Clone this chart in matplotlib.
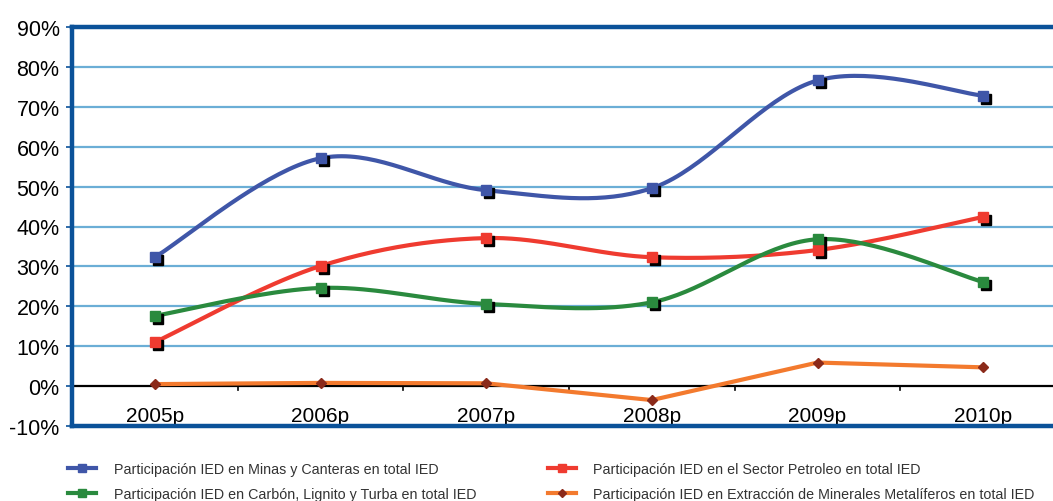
import numpy as np
import matplotlib.pyplot as plt
from matplotlib import transforms
from matplotlib.lines import Line2D

plt.rcParams['font.family'] = ['Liberation Sans', 'DejaVu Sans']

# 数据（读图估计，单位 %）
years = ["2005p", "2006p", "2007p", "2008p", "2009p", "2010p"]
minas = [32.3, 57.1, 49.1, 49.6, 76.6, 72.8]
petroleo = [11.0, 30.1, 37.1, 32.3, 34.1, 42.4]
carbon = [17.6, 24.6, 20.6, 21.0, 36.8, 26.1]
metaliferos = [0.5, 0.8, 0.7, -3.5, 5.9, 4.7]

labels = [
    "Participación IED en Minas y Canteras en total IED",
    "Participación IED en el Sector Petroleo en total IED",
    "Participación IED en Carbón, Lignito y Turba en total IED",
    "Participación IED en Extracción de Minerales Metalíferos en total IED",
]

c_blue = "#3F56A8"
c_red = "#EF3B30"
c_green = "#2A8A3E"
c_orange = "#F37A2E"
c_diamond = "#8B2A1A"
c_frame = "#0B5299"
c_grid = "#6BAED6"


def smooth(y, n=40):
    """Excel 风格的平滑线（Catmull-Rom 贝塞尔）"""
    x = np.arange(len(y), dtype=float)
    y = np.asarray(y, dtype=float)
    pts = np.column_stack([x, y])
    out = []
    for i in range(len(pts) - 1):
        p0 = pts[max(i - 1, 0)]
        p1 = pts[i]
        p2 = pts[i + 1]
        p3 = pts[min(i + 2, len(pts) - 1)]
        c1 = p1 + (p2 - p0) / 6
        c2 = p2 - (p3 - p1) / 6
        t = np.linspace(0, 1, n)[:, None]
        seg = ((1 - t) ** 3 * p1 + 3 * (1 - t) ** 2 * t * c1
               + 3 * (1 - t) * t ** 2 * c2 + t ** 3 * p2)
        out.append(seg if i == 0 else seg[1:])
    out = np.vstack(out)
    return out[:, 0], out[:, 1]


fig = plt.figure(figsize=(10.53, 5.02), dpi=100)
ax = fig.add_axes([72 / 1053, 75 / 502, 994 / 1053, 399 / 502])

ax.set_xlim(-0.5, 5.5)
ax.set_ylim(-10, 90)

# 网格线
for v in range(10, 90, 10):
    ax.axhline(v, color=c_grid, linewidth=1.6, zorder=1)
ax.axhline(0, color="black", linewidth=1.6, zorder=2)

# 零线上的分类刻度
for b in np.arange(0.5, 5.5, 1.0):
    ax.plot([b, b], [0, -0.9], color="black", linewidth=1.2, zorder=2)

shadow = transforms.offset_copy(ax.transData, fig=fig, x=3, y=-3, units="dots")
x = np.arange(len(years))

for vals, col in [(minas, c_blue), (petroleo, c_red), (carbon, c_green)]:
    sx, sy = smooth(vals)
    ax.plot(sx, sy, color=col, linewidth=3, zorder=3, solid_capstyle="round")
    ax.plot(x, vals, linestyle="none", marker="s", markersize=6.5,
            color="black", transform=shadow, zorder=4)
    ax.plot(x, vals, linestyle="none", marker="s", markersize=6.5,
            color=col, zorder=5)

ax.plot(x, metaliferos, color=c_orange, linewidth=3, zorder=3)
ax.plot(x, metaliferos, linestyle="none", marker="D", markersize=5,
        color=c_diamond, zorder=5)

# 坐标轴样式
for side in ["left", "top", "bottom"]:
    ax.spines[side].set_color(c_frame)
    ax.spines[side].set_linewidth(3.2)
ax.spines["right"].set_visible(False)

ax.set_yticks(range(-10, 100, 10))
ax.set_yticklabels([f"{v}%" for v in range(-10, 100, 10)], fontsize=15.5)
ax.tick_params(axis="y", length=4, width=1.2, color=c_frame, pad=5)
ax.set_xticks(x)
ax.set_xticklabels(years, fontsize=15)
ax.tick_params(axis="x", length=0, pad=-14.5)

# 图例
handles = []
for col, mk, ms in [(c_blue, "s", 6), (c_red, "s", 6), (c_green, "s", 6), (c_diamond, "D", 4.5)]:
    lc = c_orange if mk == "D" else col
    handles.append(Line2D([0], [0], color=lc, linewidth=3, marker=mk,
                          markersize=ms, markerfacecolor=col, markeredgecolor=col))
order = [0, 2, 1, 3]
fig.legend([handles[i] for i in order], [labels[i] for i in order],
           ncol=2, loc="upper left", bbox_to_anchor=(62 / 1053, 1 - 457 / 502),
           frameon=False, fontsize=10.3, handlelength=2.0, handletextpad=1.2,
           columnspacing=5.0, labelspacing=0.82, borderaxespad=0,
           labelcolor="#333333")

fig.savefig("out.png", dpi=100)
